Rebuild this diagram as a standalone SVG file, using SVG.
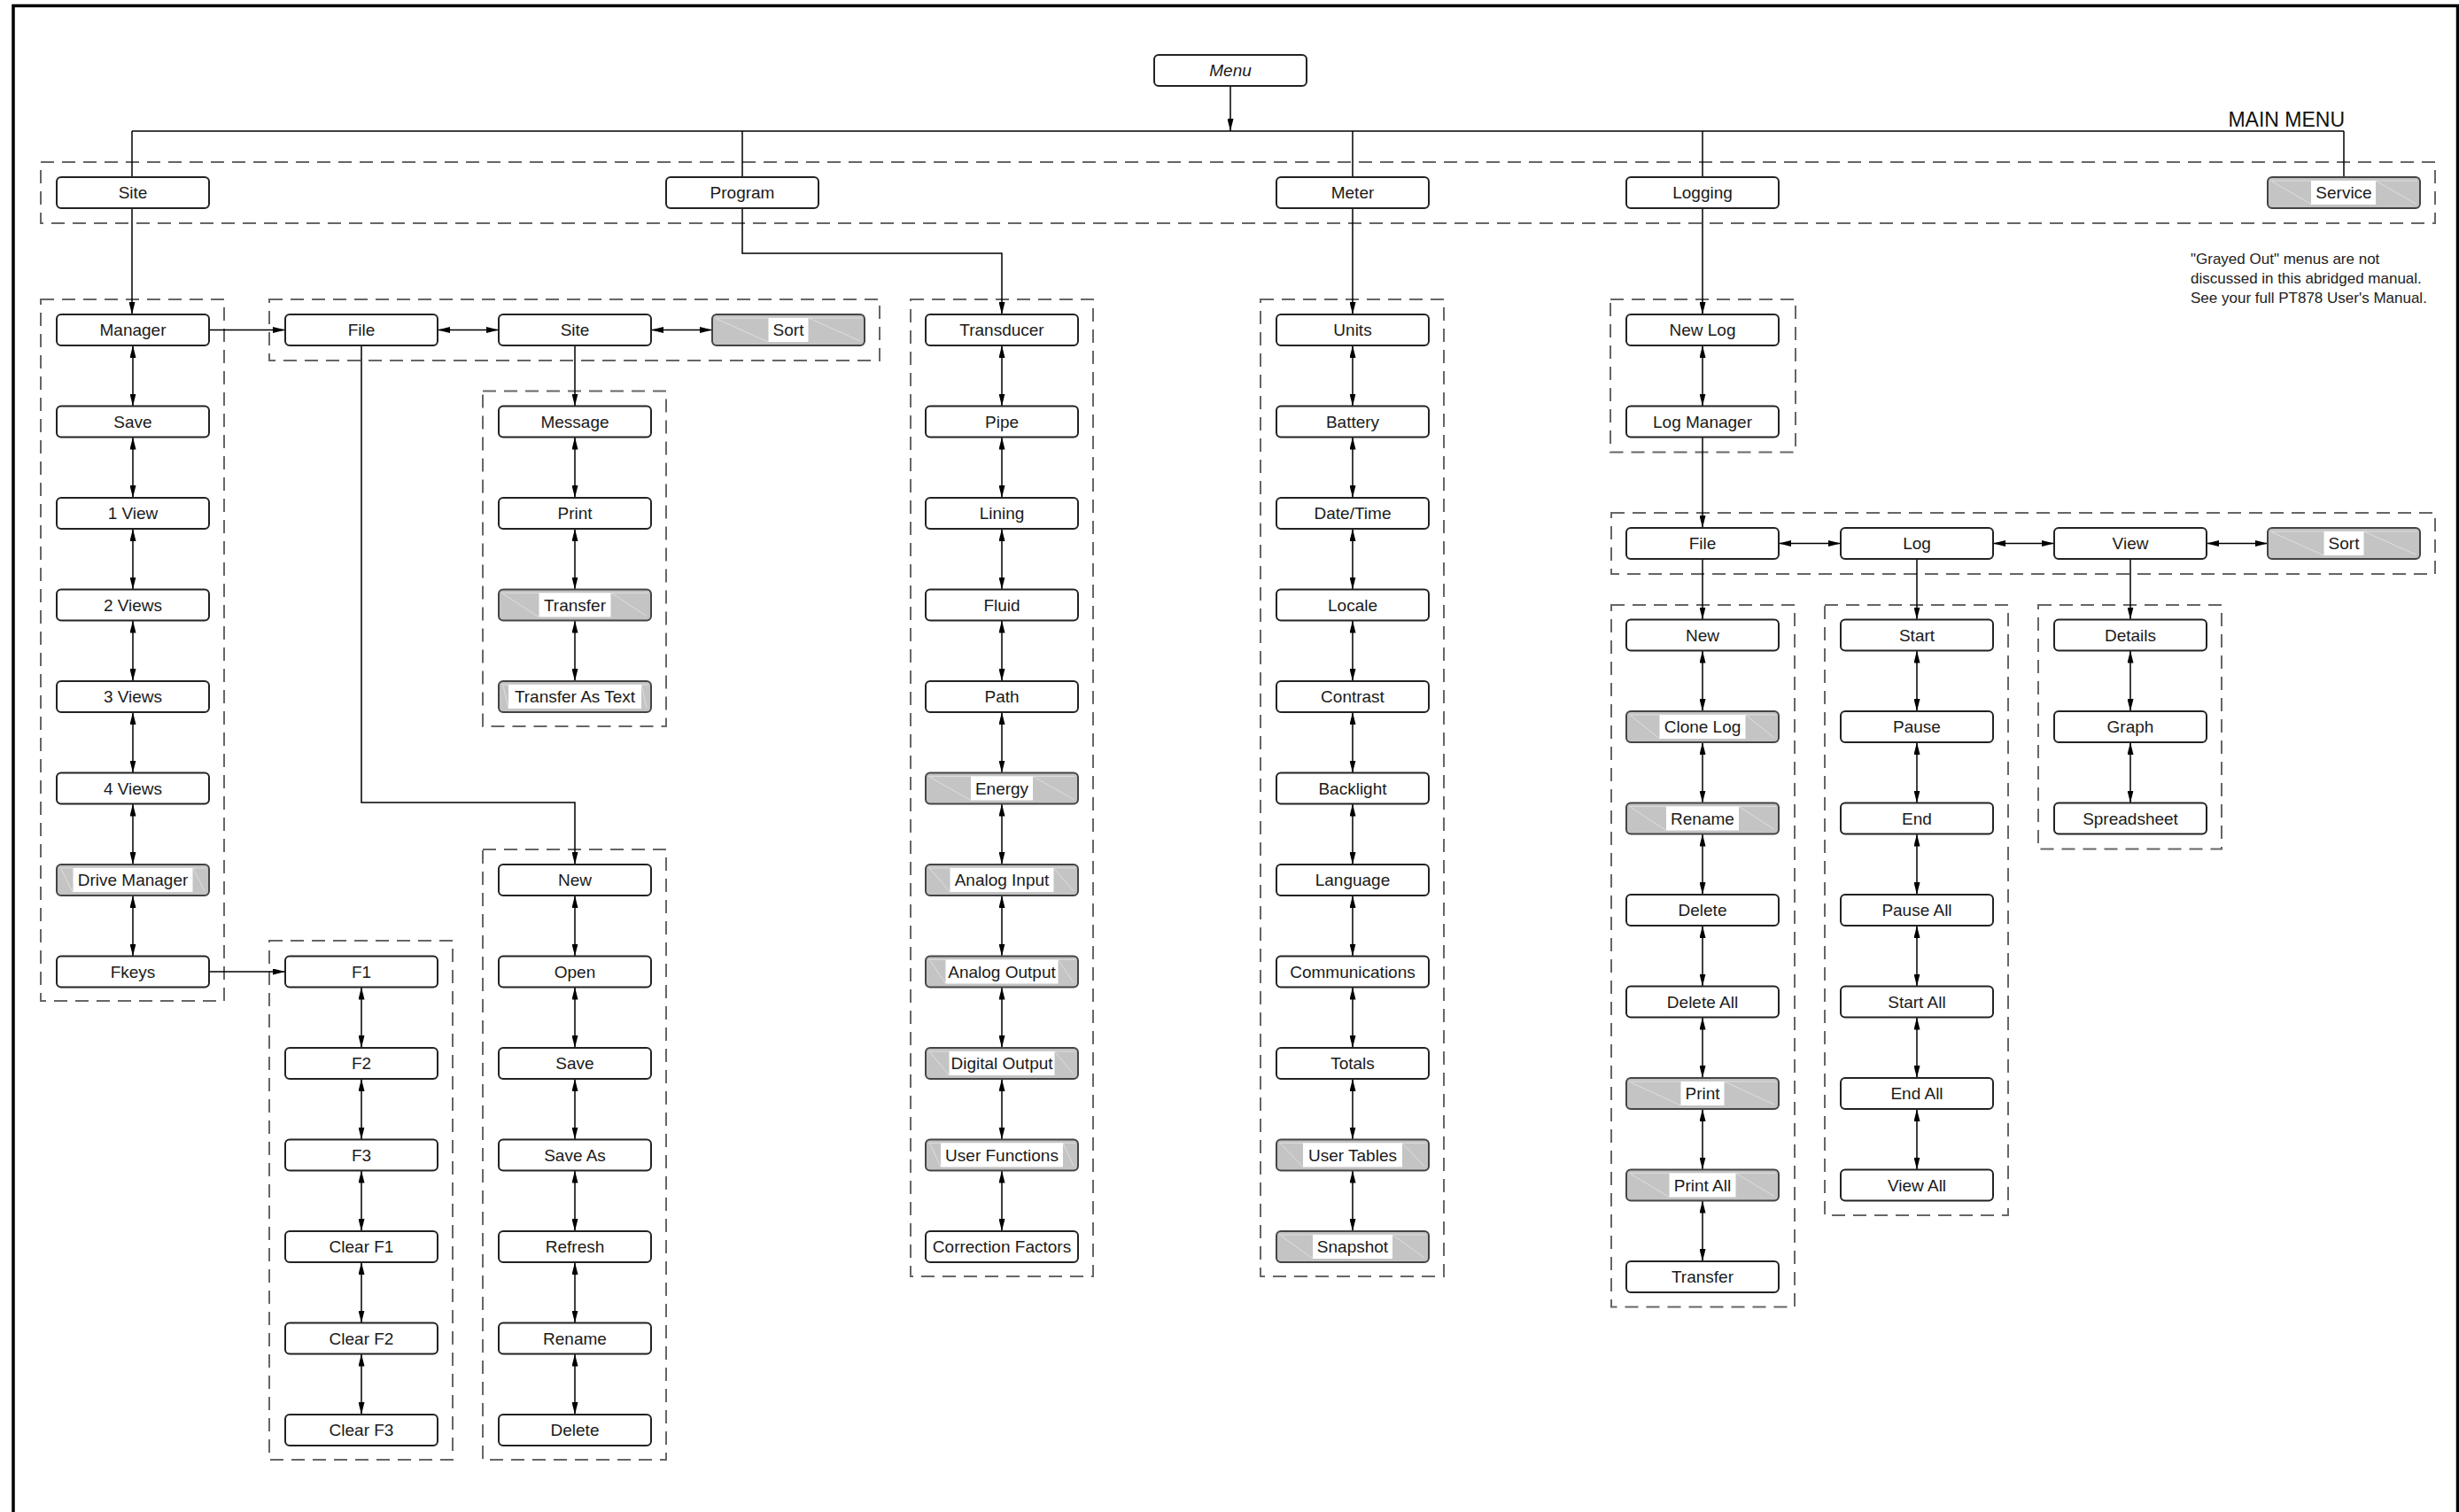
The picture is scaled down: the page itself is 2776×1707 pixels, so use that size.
<svg xmlns="http://www.w3.org/2000/svg" width="2776" height="1707" viewBox="0 0 2776 1707">
<defs>
<marker id="ah" markerUnits="userSpaceOnUse" markerWidth="14" markerHeight="7" refX="14" refY="3.5" orient="auto-start-reverse"><path d="M0,0 L14,3.5 L0,7 z" fill="#000"/></marker>
<style>
.box{fill:#fff;stroke:#222;stroke-width:2}
.gbox{fill:#c4c4c4;stroke:#444;stroke-width:2}
.hatch{fill:none;stroke:#e8e8e8;stroke-width:1;stroke-opacity:0.7}
.lblbg{fill:#fff}
.lbl{font-family:"Liberation Sans",Arial,sans-serif;font-size:19px;fill:#1a1a1a;text-anchor:middle}
.grp{fill:none;stroke:#666;stroke-width:2;stroke-dasharray:15 9}
.ln{fill:none;stroke:#000;stroke-width:1.5}
.uni{marker-end:url(#ah)}
.bi{marker-start:url(#ah);marker-end:url(#ah)}
.note{font-family:"Liberation Sans",Arial,sans-serif;font-size:17px;fill:#222}
</style>
</defs>
<rect width="2776" height="1707" fill="#fff"/>
<path d="M15,1707 V6.5 H2774.5 V1707" fill="none" stroke="#000" stroke-width="3.5"/>

<g id="groups">
<rect class="grp" x="46" y="183" width="2703" height="69"/>
<rect class="grp" x="46" y="338" width="207" height="792"/>
<rect class="grp" x="304" y="338" width="689" height="69"/>
<rect class="grp" x="545" y="441.5" width="207" height="378.5"/>
<rect class="grp" x="304" y="1062" width="207" height="586"/>
<rect class="grp" x="545" y="959" width="207" height="689"/>
<rect class="grp" x="1028" y="338" width="206" height="1103"/>
<rect class="grp" x="1423" y="338" width="207" height="1103"/>
<rect class="grp" x="1818" y="338" width="209" height="172.5"/>
<rect class="grp" x="1819" y="579" width="930" height="69"/>
<rect class="grp" x="1819" y="683" width="207" height="792.5"/>
<rect class="grp" x="2060" y="683" width="207" height="689"/>
<rect class="grp" x="2301" y="683" width="207" height="275.5"/>
</g>

<g id="labels">
<text x="2647" y="143" font-family="Liberation Sans, Arial, sans-serif" font-size="23" text-anchor="end" fill="#111">MAIN MENU</text>
<text class="note" x="2473" y="298">"Grayed Out" menus are not</text>
<text class="note" x="2473" y="320">discussed in this abridged manual.</text>
<text class="note" x="2473" y="342">See your full PT878 User's Manual.</text>
</g>

<g id="connectors">
<line class="ln uni" x1="1389" y1="97" x2="1389" y2="148"/>
<line class="ln" x1="149" y1="148" x2="2646" y2="148"/>
<line class="ln" x1="149" y1="148" x2="149" y2="200"/>
<line class="ln" x1="838" y1="148" x2="838" y2="200"/>
<line class="ln" x1="1527" y1="148" x2="1527" y2="200"/>
<line class="ln" x1="1922" y1="148" x2="1922" y2="200"/>
<line class="ln" x1="2646" y1="148" x2="2646" y2="200"/>
<line class="ln uni" x1="149" y1="235" x2="149" y2="355"/>
<path class="ln uni" d="M838,235 V286 H1131 V355"/>
<line class="ln uni" x1="1527" y1="235" x2="1527" y2="355"/>
<line class="ln uni" x1="1922" y1="235" x2="1922" y2="355"/>
<line class="ln uni" x1="236" y1="372.5" x2="322" y2="372.5"/>
<line class="ln bi" x1="494" y1="372.5" x2="563" y2="372.5"/>
<line class="ln bi" x1="735" y1="372.5" x2="804" y2="372.5"/>
<line class="ln uni" x1="649" y1="390" x2="649" y2="458.5"/>
<path class="ln uni" d="M408,390 V906 H649 V976"/>
<line class="ln uni" x1="236" y1="1097" x2="322" y2="1097"/>
<line class="ln uni" x1="1922" y1="493.5" x2="1922" y2="596"/>
<line class="ln bi" x1="2008" y1="613.5" x2="2078" y2="613.5"/>
<line class="ln bi" x1="2250" y1="613.5" x2="2319" y2="613.5"/>
<line class="ln bi" x1="2491" y1="613.5" x2="2560" y2="613.5"/>
<line class="ln uni" x1="1922" y1="631" x2="1922" y2="699.5"/>
<line class="ln uni" x1="2164" y1="631" x2="2164" y2="699.5"/>
<line class="ln uni" x1="2405" y1="631" x2="2405" y2="699.5"/>
<!-- Site column -->
<line class="ln bi" x1="150" y1="390" x2="150" y2="458.5"/>
<line class="ln bi" x1="150" y1="493.5" x2="150" y2="562"/>
<line class="ln bi" x1="150" y1="597" x2="150" y2="665.5"/>
<line class="ln bi" x1="150" y1="700.5" x2="150" y2="769"/>
<line class="ln bi" x1="150" y1="804" x2="150" y2="872.5"/>
<line class="ln bi" x1="150" y1="907.5" x2="150" y2="976"/>
<line class="ln bi" x1="150" y1="1011" x2="150" y2="1079.5"/>
<!-- F keys column -->
<line class="ln bi" x1="408" y1="1114.5" x2="408" y2="1183"/>
<line class="ln bi" x1="408" y1="1218" x2="408" y2="1286.5"/>
<line class="ln bi" x1="408" y1="1321.5" x2="408" y2="1390"/>
<line class="ln bi" x1="408" y1="1425" x2="408" y2="1493.5"/>
<line class="ln bi" x1="408" y1="1528.5" x2="408" y2="1597"/>
<!-- Message column -->
<line class="ln bi" x1="649" y1="493.5" x2="649" y2="562"/>
<line class="ln bi" x1="649" y1="597" x2="649" y2="665.5"/>
<line class="ln bi" x1="649" y1="700.5" x2="649" y2="769"/>
<!-- File sub column -->
<line class="ln bi" x1="649" y1="1011" x2="649" y2="1079.5"/>
<line class="ln bi" x1="649" y1="1114.5" x2="649" y2="1183"/>
<line class="ln bi" x1="649" y1="1218" x2="649" y2="1286.5"/>
<line class="ln bi" x1="649" y1="1321.5" x2="649" y2="1390"/>
<line class="ln bi" x1="649" y1="1425" x2="649" y2="1493.5"/>
<line class="ln bi" x1="649" y1="1528.5" x2="649" y2="1597"/>
<!-- Program column -->
<line class="ln bi" x1="1131" y1="390" x2="1131" y2="458.5"/>
<line class="ln bi" x1="1131" y1="493.5" x2="1131" y2="562"/>
<line class="ln bi" x1="1131" y1="597" x2="1131" y2="665.5"/>
<line class="ln bi" x1="1131" y1="700.5" x2="1131" y2="769"/>
<line class="ln bi" x1="1131" y1="804" x2="1131" y2="872.5"/>
<line class="ln bi" x1="1131" y1="907.5" x2="1131" y2="976"/>
<line class="ln bi" x1="1131" y1="1011" x2="1131" y2="1079.5"/>
<line class="ln bi" x1="1131" y1="1114.5" x2="1131" y2="1183"/>
<line class="ln bi" x1="1131" y1="1218" x2="1131" y2="1286.5"/>
<line class="ln bi" x1="1131" y1="1321.5" x2="1131" y2="1390"/>
<!-- Meter column -->
<line class="ln bi" x1="1527" y1="390" x2="1527" y2="458.5"/>
<line class="ln bi" x1="1527" y1="493.5" x2="1527" y2="562"/>
<line class="ln bi" x1="1527" y1="597" x2="1527" y2="665.5"/>
<line class="ln bi" x1="1527" y1="700.5" x2="1527" y2="769"/>
<line class="ln bi" x1="1527" y1="804" x2="1527" y2="872.5"/>
<line class="ln bi" x1="1527" y1="907.5" x2="1527" y2="976"/>
<line class="ln bi" x1="1527" y1="1011" x2="1527" y2="1079.5"/>
<line class="ln bi" x1="1527" y1="1114.5" x2="1527" y2="1183"/>
<line class="ln bi" x1="1527" y1="1218" x2="1527" y2="1286.5"/>
<line class="ln bi" x1="1527" y1="1321.5" x2="1527" y2="1390"/>
<!-- Logging -->
<line class="ln bi" x1="1922" y1="390" x2="1922" y2="458.5"/>
<line class="ln bi" x1="1922" y1="734.5" x2="1922" y2="803"/>
<line class="ln bi" x1="1922" y1="838" x2="1922" y2="906.5"/>
<line class="ln bi" x1="1922" y1="941.5" x2="1922" y2="1010"/>
<line class="ln bi" x1="1922" y1="1045" x2="1922" y2="1113.5"/>
<line class="ln bi" x1="1922" y1="1148.5" x2="1922" y2="1217"/>
<line class="ln bi" x1="1922" y1="1252" x2="1922" y2="1320.5"/>
<line class="ln bi" x1="1922" y1="1355.5" x2="1922" y2="1424"/>
<line class="ln bi" x1="2164" y1="734.5" x2="2164" y2="803"/>
<line class="ln bi" x1="2164" y1="838" x2="2164" y2="906.5"/>
<line class="ln bi" x1="2164" y1="941.5" x2="2164" y2="1010"/>
<line class="ln bi" x1="2164" y1="1045" x2="2164" y2="1113.5"/>
<line class="ln bi" x1="2164" y1="1148.5" x2="2164" y2="1217"/>
<line class="ln bi" x1="2164" y1="1252" x2="2164" y2="1320.5"/>
<line class="ln bi" x1="2405" y1="734.5" x2="2405" y2="803"/>
<line class="ln bi" x1="2405" y1="838" x2="2405" y2="906.5"/>
</g>

<g id="nodes">
<g id="n-menu"><rect class="box" x="1303" y="62" width="172" height="35" rx="5"/><text class="lbl" x="1389" y="86" font-style="italic">Menu</text></g>
<g id="n-site"><rect class="box" x="64" y="200" width="172" height="35" rx="5"/><text class="lbl" x="150" y="224">Site</text></g>
<g id="n-program"><rect class="box" x="752" y="200" width="172" height="35" rx="5"/><text class="lbl" x="838" y="224">Program</text></g>
<g id="n-meter"><rect class="box" x="1441" y="200" width="172" height="35" rx="5"/><text class="lbl" x="1527" y="224">Meter</text></g>
<g id="n-logging"><rect class="box" x="1836" y="200" width="172" height="35" rx="5"/><text class="lbl" x="1922" y="224">Logging</text></g>
<g id="n-service"><rect class="gbox" x="2560" y="200" width="172" height="35" rx="5"/><path class="hatch" d="M2565,205 L2610,231 M2682,204 L2727,230 M2563,204 H2729"/><rect class="lblbg" x="2609" y="204" width="73" height="27"/><text class="lbl" x="2646" y="224">Service</text></g>

<!-- Site column -->
<g id="n-manager"><rect class="box" x="64" y="355" width="172" height="35" rx="5"/><text class="lbl" x="150" y="379">Manager</text></g>
<g id="n-save1"><rect class="box" x="64" y="458.5" width="172" height="35" rx="5"/><text class="lbl" x="150" y="482.5">Save</text></g>
<g id="n-1view"><rect class="box" x="64" y="562" width="172" height="35" rx="5"/><text class="lbl" x="150" y="586">1 View</text></g>
<g id="n-2views"><rect class="box" x="64" y="665.5" width="172" height="35" rx="5"/><text class="lbl" x="150" y="689.5">2 Views</text></g>
<g id="n-3views"><rect class="box" x="64" y="769" width="172" height="35" rx="5"/><text class="lbl" x="150" y="793">3 Views</text></g>
<g id="n-4views"><rect class="box" x="64" y="872.5" width="172" height="35" rx="5"/><text class="lbl" x="150" y="896.5">4 Views</text></g>
<g id="n-drivemanager"><rect class="gbox" x="64" y="976" width="172" height="35" rx="5"/><path class="hatch" d="M69,981 L82,1007 M218,980 L231,1006 M67,980 H233"/><rect class="lblbg" x="82.5" y="980" width="135" height="27"/><text class="lbl" x="150" y="1000">Drive Manager</text></g>
<g id="n-fkeys"><rect class="box" x="64" y="1079.5" width="172" height="35" rx="5"/><text class="lbl" x="150" y="1103.5">Fkeys</text></g>

<!-- Site manager row -->
<g id="n-file1"><rect class="box" x="322" y="355" width="172" height="35" rx="5"/><text class="lbl" x="408" y="379">File</text></g>
<g id="n-site2"><rect class="box" x="563" y="355" width="172" height="35" rx="5"/><text class="lbl" x="649" y="379">Site</text></g>
<g id="n-sort1"><rect class="gbox" x="804" y="355" width="172" height="35" rx="5"/><path class="hatch" d="M809,360 L867,386 M913,359 L971,385 M807,359 H973"/><rect class="lblbg" x="867.5" y="359" width="45" height="27"/><text class="lbl" x="890" y="379">Sort</text></g>

<g id="n-message"><rect class="box" x="563" y="458.5" width="172" height="35" rx="5"/><text class="lbl" x="649" y="482.5">Message</text></g>
<g id="n-print1"><rect class="box" x="563" y="562" width="172" height="35" rx="5"/><text class="lbl" x="649" y="586">Print</text></g>
<g id="n-transfer1"><rect class="gbox" x="563" y="665.5" width="172" height="35" rx="5"/><path class="hatch" d="M568,670.5 L608,696.5 M690,669.5 L730,695.5 M566,669.5 H732"/><rect class="lblbg" x="608.5" y="669.5" width="81" height="27"/><text class="lbl" x="649" y="689.5">Transfer</text></g>
<g id="n-transfertext"><rect class="gbox" x="563" y="769" width="172" height="35" rx="5"/><path class="hatch" d="M568,774 L574,800 M724,773 L730,799 M566,773 H732"/><rect class="lblbg" x="574" y="773" width="150" height="27"/><text class="lbl" x="649" y="793">Transfer As Text</text></g>

<!-- File sub column -->
<g id="n-new1"><rect class="box" x="563" y="976" width="172" height="35" rx="5"/><text class="lbl" x="649" y="1000">New</text></g>
<g id="n-open"><rect class="box" x="563" y="1079.5" width="172" height="35" rx="5"/><text class="lbl" x="649" y="1103.5">Open</text></g>
<g id="n-save2"><rect class="box" x="563" y="1183" width="172" height="35" rx="5"/><text class="lbl" x="649" y="1207">Save</text></g>
<g id="n-saveas"><rect class="box" x="563" y="1286.5" width="172" height="35" rx="5"/><text class="lbl" x="649" y="1310.5">Save As</text></g>
<g id="n-refresh"><rect class="box" x="563" y="1390" width="172" height="35" rx="5"/><text class="lbl" x="649" y="1414">Refresh</text></g>
<g id="n-rename1"><rect class="box" x="563" y="1493.5" width="172" height="35" rx="5"/><text class="lbl" x="649" y="1517.5">Rename</text></g>
<g id="n-delete1"><rect class="box" x="563" y="1597" width="172" height="35" rx="5"/><text class="lbl" x="649" y="1621">Delete</text></g>

<!-- F keys -->
<g id="n-f1"><rect class="box" x="322" y="1079.5" width="172" height="35" rx="5"/><text class="lbl" x="408" y="1103.5">F1</text></g>
<g id="n-f2"><rect class="box" x="322" y="1183" width="172" height="35" rx="5"/><text class="lbl" x="408" y="1207">F2</text></g>
<g id="n-f3"><rect class="box" x="322" y="1286.5" width="172" height="35" rx="5"/><text class="lbl" x="408" y="1310.5">F3</text></g>
<g id="n-clearf1"><rect class="box" x="322" y="1390" width="172" height="35" rx="5"/><text class="lbl" x="408" y="1414">Clear F1</text></g>
<g id="n-clearf2"><rect class="box" x="322" y="1493.5" width="172" height="35" rx="5"/><text class="lbl" x="408" y="1517.5">Clear F2</text></g>
<g id="n-clearf3"><rect class="box" x="322" y="1597" width="172" height="35" rx="5"/><text class="lbl" x="408" y="1621">Clear F3</text></g>

<!-- Program column -->
<g id="n-transducer"><rect class="box" x="1045" y="355" width="172" height="35" rx="5"/><text class="lbl" x="1131" y="379">Transducer</text></g>
<g id="n-pipe"><rect class="box" x="1045" y="458.5" width="172" height="35" rx="5"/><text class="lbl" x="1131" y="482.5">Pipe</text></g>
<g id="n-lining"><rect class="box" x="1045" y="562" width="172" height="35" rx="5"/><text class="lbl" x="1131" y="586">Lining</text></g>
<g id="n-fluid"><rect class="box" x="1045" y="665.5" width="172" height="35" rx="5"/><text class="lbl" x="1131" y="689.5">Fluid</text></g>
<g id="n-path"><rect class="box" x="1045" y="769" width="172" height="35" rx="5"/><text class="lbl" x="1131" y="793">Path</text></g>
<g id="n-energy"><rect class="gbox" x="1045" y="872.5" width="172" height="35" rx="5"/><path class="hatch" d="M1050,877.5 L1096,903.5 M1166,876.5 L1212,902.5 M1048,876.5 H1214"/><rect class="lblbg" x="1096" y="876.5" width="70" height="27"/><text class="lbl" x="1131" y="896.5">Energy</text></g>
<g id="n-analogin"><rect class="gbox" x="1045" y="976" width="172" height="35" rx="5"/><path class="hatch" d="M1050,981 L1072.5,1007 M1189.5,980 L1212,1006 M1048,980 H1214"/><rect class="lblbg" x="1072.5" y="980" width="117" height="27"/><text class="lbl" x="1131" y="1000">Analog Input</text></g>
<g id="n-analogout"><rect class="gbox" x="1045" y="1079.5" width="172" height="35" rx="5"/><path class="hatch" d="M1050,1084.5 L1067.5,1110.5 M1194.5,1083.5 L1212,1109.5 M1048,1083.5 H1214"/><rect class="lblbg" x="1067.5" y="1083.5" width="127" height="27"/><text class="lbl" x="1131" y="1103.5">Analog Output</text></g>
<g id="n-digitalout"><rect class="gbox" x="1045" y="1183" width="172" height="35" rx="5"/><path class="hatch" d="M1050,1188 L1071.5,1214 M1190.5,1187 L1212,1213 M1048,1187 H1214"/><rect class="lblbg" x="1071.5" y="1187" width="119" height="27"/><text class="lbl" x="1131" y="1207">Digital Output</text></g>
<g id="n-userfunc"><rect class="gbox" x="1045" y="1286.5" width="172" height="35" rx="5"/><path class="hatch" d="M1050,1291.5 L1062,1317.5 M1200,1290.5 L1212,1316.5 M1048,1290.5 H1214"/><rect class="lblbg" x="1062" y="1290.5" width="138" height="27"/><text class="lbl" x="1131" y="1310.5">User Functions</text></g>
<g id="n-correction"><rect class="box" x="1045" y="1390" width="172" height="35" rx="5"/><text class="lbl" x="1131" y="1414">Correction Factors</text></g>

<!-- Meter column -->
<g id="n-units"><rect class="box" x="1441" y="355" width="172" height="35" rx="5"/><text class="lbl" x="1527" y="379">Units</text></g>
<g id="n-battery"><rect class="box" x="1441" y="458.5" width="172" height="35" rx="5"/><text class="lbl" x="1527" y="482.5">Battery</text></g>
<g id="n-datetime"><rect class="box" x="1441" y="562" width="172" height="35" rx="5"/><text class="lbl" x="1527" y="586">Date/Time</text></g>
<g id="n-locale"><rect class="box" x="1441" y="665.5" width="172" height="35" rx="5"/><text class="lbl" x="1527" y="689.5">Locale</text></g>
<g id="n-contrast"><rect class="box" x="1441" y="769" width="172" height="35" rx="5"/><text class="lbl" x="1527" y="793">Contrast</text></g>
<g id="n-backlight"><rect class="box" x="1441" y="872.5" width="172" height="35" rx="5"/><text class="lbl" x="1527" y="896.5">Backlight</text></g>
<g id="n-language"><rect class="box" x="1441" y="976" width="172" height="35" rx="5"/><text class="lbl" x="1527" y="1000">Language</text></g>
<g id="n-comms"><rect class="box" x="1441" y="1079.5" width="172" height="35" rx="5"/><text class="lbl" x="1527" y="1103.5">Communications</text></g>
<g id="n-totals"><rect class="box" x="1441" y="1183" width="172" height="35" rx="5"/><text class="lbl" x="1527" y="1207">Totals</text></g>
<g id="n-usertables"><rect class="gbox" x="1441" y="1286.5" width="172" height="35" rx="5"/><path class="hatch" d="M1446,1291.5 L1471,1317.5 M1583,1290.5 L1608,1316.5 M1444,1290.5 H1610"/><rect class="lblbg" x="1471" y="1290.5" width="112" height="27"/><text class="lbl" x="1527" y="1310.5">User Tables</text></g>
<g id="n-snapshot"><rect class="gbox" x="1441" y="1390" width="172" height="35" rx="5"/><path class="hatch" d="M1446,1395 L1482,1421 M1572,1394 L1608,1420 M1444,1394 H1610"/><rect class="lblbg" x="1482" y="1394" width="90" height="27"/><text class="lbl" x="1527" y="1414">Snapshot</text></g>

<!-- Logging -->
<g id="n-newlog"><rect class="box" x="1836" y="355" width="172" height="35" rx="5"/><text class="lbl" x="1922" y="379">New Log</text></g>
<g id="n-logmanager"><rect class="box" x="1836" y="458.5" width="172" height="35" rx="5"/><text class="lbl" x="1922" y="482.5">Log Manager</text></g>
<g id="n-file2"><rect class="box" x="1836" y="596" width="172" height="35" rx="5"/><text class="lbl" x="1922" y="620">File</text></g>
<g id="n-log"><rect class="box" x="2078" y="596" width="172" height="35" rx="5"/><text class="lbl" x="2164" y="620">Log</text></g>
<g id="n-view"><rect class="box" x="2319" y="596" width="172" height="35" rx="5"/><text class="lbl" x="2405" y="620">View</text></g>
<g id="n-sort2"><rect class="gbox" x="2560" y="596" width="172" height="35" rx="5"/><path class="hatch" d="M2565,601 L2623.5,627 M2668.5,600 L2727,626 M2563,600 H2729"/><rect class="lblbg" x="2623.5" y="600" width="45" height="27"/><text class="lbl" x="2646" y="620">Sort</text></g>

<g id="n-new2"><rect class="box" x="1836" y="699.5" width="172" height="35" rx="5"/><text class="lbl" x="1922" y="723.5">New</text></g>
<g id="n-clonelog"><rect class="gbox" x="1836" y="803" width="172" height="35" rx="5"/><path class="hatch" d="M1841,808 L1873.5,834 M1970.5,807 L2003,833 M1839,807 H2005"/><rect class="lblbg" x="1873.5" y="807" width="97" height="27"/><text class="lbl" x="1922" y="827">Clone Log</text></g>
<g id="n-rename2"><rect class="gbox" x="1836" y="906.5" width="172" height="35" rx="5"/><path class="hatch" d="M1841,911.5 L1881,937.5 M1963,910.5 L2003,936.5 M1839,910.5 H2005"/><rect class="lblbg" x="1881" y="910.5" width="82" height="27"/><text class="lbl" x="1922" y="930.5">Rename</text></g>
<g id="n-delete2"><rect class="box" x="1836" y="1010" width="172" height="35" rx="5"/><text class="lbl" x="1922" y="1034">Delete</text></g>
<g id="n-deleteall"><rect class="box" x="1836" y="1113.5" width="172" height="35" rx="5"/><text class="lbl" x="1922" y="1137.5">Delete All</text></g>
<g id="n-print2"><rect class="gbox" x="1836" y="1217" width="172" height="35" rx="5"/><path class="hatch" d="M1841,1222 L1897.5,1248 M1946.5,1221 L2003,1247 M1839,1221 H2005"/><rect class="lblbg" x="1897.5" y="1221" width="49" height="27"/><text class="lbl" x="1922" y="1241">Print</text></g>
<g id="n-printall"><rect class="gbox" x="1836" y="1320.5" width="172" height="35" rx="5"/><path class="hatch" d="M1841,1325.5 L1884.5,1351.5 M1959.5,1324.5 L2003,1350.5 M1839,1324.5 H2005"/><rect class="lblbg" x="1884.5" y="1324.5" width="75" height="27"/><text class="lbl" x="1922" y="1344.5">Print All</text></g>
<g id="n-transfer2"><rect class="box" x="1836" y="1424" width="172" height="35" rx="5"/><text class="lbl" x="1922" y="1448">Transfer</text></g>

<g id="n-start"><rect class="box" x="2078" y="699.5" width="172" height="35" rx="5"/><text class="lbl" x="2164" y="723.5">Start</text></g>
<g id="n-pause"><rect class="box" x="2078" y="803" width="172" height="35" rx="5"/><text class="lbl" x="2164" y="827">Pause</text></g>
<g id="n-end"><rect class="box" x="2078" y="906.5" width="172" height="35" rx="5"/><text class="lbl" x="2164" y="930.5">End</text></g>
<g id="n-pauseall"><rect class="box" x="2078" y="1010" width="172" height="35" rx="5"/><text class="lbl" x="2164" y="1034">Pause All</text></g>
<g id="n-startall"><rect class="box" x="2078" y="1113.5" width="172" height="35" rx="5"/><text class="lbl" x="2164" y="1137.5">Start All</text></g>
<g id="n-endall"><rect class="box" x="2078" y="1217" width="172" height="35" rx="5"/><text class="lbl" x="2164" y="1241">End All</text></g>
<g id="n-viewall"><rect class="box" x="2078" y="1320.5" width="172" height="35" rx="5"/><text class="lbl" x="2164" y="1344.5">View All</text></g>

<g id="n-details"><rect class="box" x="2319" y="699.5" width="172" height="35" rx="5"/><text class="lbl" x="2405" y="723.5">Details</text></g>
<g id="n-graph"><rect class="box" x="2319" y="803" width="172" height="35" rx="5"/><text class="lbl" x="2405" y="827">Graph</text></g>
<g id="n-spreadsheet"><rect class="box" x="2319" y="906.5" width="172" height="35" rx="5"/><text class="lbl" x="2405" y="930.5">Spreadsheet</text></g>
</g>
</svg>
